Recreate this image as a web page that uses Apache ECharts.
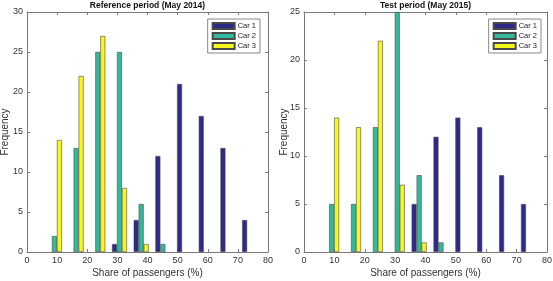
<!DOCTYPE html>
<html><head><meta charset="utf-8">
<script src="https://cdn.jsdelivr.net/npm/echarts@6/dist/echarts.min.js"></script>
<style>html,body{margin:0;padding:0;background:#fff}#c{width:553px;height:281px}</style>
</head><body><div id="c"></div>
<script>
const binCenters = [9.1, 16.3, 23.5, 30.7, 37.9, 45.1, 52.3, 59.5, 66.7, 73.9];
const seriesNames = ['Car 1', 'Car 2', 'Car 3'];
const refCar1 = [0, 0, 0, 1, 4, 12, 21, 17, 13, 4];
const refCar2 = [2, 13, 25, 25, 6, 1, 0, 0, 0, 0];
const refCar3 = [14, 22, 27, 8, 1, 0, 0, 0, 0, 0];
const testCar1 = [0, 0, 0, 0, 5, 12, 14, 13, 8, 5];
const testCar2 = [5, 5, 13, 25, 8, 1, 0, 0, 0, 0];
const testCar3 = [14, 13, 22, 7, 1, 0, 0, 0, 0, 0];
const xTicks = [0, 10, 20, 30, 40, 50, 60, 70, 80];
const titles = ['Reference period (May 2014)', 'Test period (May 2015)'];
const xLabel = 'Share of passengers (%)';
const yLabel = 'Frequency';

const colors = ['#2d2a8a', '#33b89c', '#f7f71c'];
const font = 'Liberation Sans, Arial, Helvetica, sans-serif';
const axisCol = '#7a7a7a';
const textCol = '#333';

function toData(vals) {
  return binCenters.map((c, i) => [c, vals[i] === 0 ? '-' : vals[i]]);
}

const grids = [
  {left: 27, right: 285, top: 12, bottom: 29, outerBoundsMode: 'none', containLabel: false},
  {left: 304, right: 6, top: 12, bottom: 29, outerBoundsMode: 'none', containLabel: false}
];
const yMax = [30, 25];

const xAxes = [], yAxes = [], series = [], legends = [], tTitles = [];
grids.forEach((g, gi) => {
  xAxes.push({
    gridIndex: gi, type: 'value', min: xTicks[0], max: xTicks[xTicks.length - 1], interval: 10,
    name: xLabel, nameLocation: 'middle', nameGap: 16, nameMoveOverlap: false,
    nameTextStyle: {color: textCol, fontSize: 10, fontFamily: font},
    axisLine: {show: true, lineStyle: {color: axisCol, width: 1}},
    axisTick: {show: true, inside: true, length: 3, lineStyle: {color: axisCol}},
    axisLabel: {color: textCol, fontSize: 9, fontFamily: font, margin: 4},
    splitLine: {show: false}
  });
  xAxes.push({
    gridIndex: gi, type: 'value', position: 'top', min: 0, max: 80, interval: 10,
    axisLine: {show: true, onZero: false, lineStyle: {color: axisCol, width: 1}},
    axisTick: {show: true, inside: true, length: 3, lineStyle: {color: axisCol}},
    axisLabel: {show: false}, splitLine: {show: false}
  });
  yAxes.push({
    gridIndex: gi, type: 'value', min: 0, max: yMax[gi], interval: 5,
    name: yLabel, nameLocation: 'middle', nameGap: gi === 0 ? 17 : 15, nameMoveOverlap: false,
    nameTextStyle: {color: textCol, fontSize: 10, fontFamily: font},
    axisLine: {show: true, lineStyle: {color: axisCol, width: 1}},
    axisTick: {show: true, inside: true, length: 3, lineStyle: {color: axisCol}},
    axisLabel: {color: textCol, fontSize: 9, fontFamily: font, margin: 4},
    splitLine: {show: false}
  });
  yAxes.push({
    gridIndex: gi, type: 'value', position: 'right', min: 0, max: yMax[gi], interval: 5,
    axisLine: {show: true, onZero: false, lineStyle: {color: axisCol, width: 1}},
    axisTick: {show: true, inside: true, length: 3, lineStyle: {color: axisCol}},
    axisLabel: {show: false}, splitLine: {show: false}
  });
  const left = g.left, width = 553 - g.left - g.right;
  tTitles.push({
    text: titles[gi], left: left + width / 2, top: 1, textAlign: 'center', padding: 0,
    textStyle: {fontSize: 8.5, fontWeight: 'bold', color: '#111', fontFamily: font}
  });
});

const allData = [[refCar1, refCar2, refCar3], [testCar1, testCar2, testCar3]];
allData.forEach((set, gi) => {
  set.forEach((vals, si) => {
    series.push({
      type: 'bar', name: seriesNames[si], xAxisIndex: gi * 2, yAxisIndex: gi * 2,
      data: toData(vals), barWidth: 5, barGap: '0%',
      itemStyle: {color: colors[si], borderColor: '#4a4a4a', borderWidth: 0.6},
      emphasis: {disabled: true}
    });
  });
});

[293, 12].forEach(r => {
  legends.push({
    data: seriesNames.map(n => ({name: n, icon: 'rect'})), orient: 'vertical', right: r, top: 19,
    itemWidth: 22, itemHeight: 6, itemGap: 2,
    backgroundColor: '#fff', borderColor: '#888', borderWidth: 1, borderRadius: 0,
    padding: [3, 4, 3, 4],
    textStyle: {fontSize: 7.5, color: '#222', fontFamily: font, padding: [0, 0, 0, -2]},
    selectedMode: false
  });
});

const chart = echarts.init(document.getElementById('c'), null, {renderer: 'canvas'});
chart.setOption({
  animation: false,
  backgroundColor: '#fff',
  title: tTitles,
  grid: grids,
  xAxis: xAxes,
  yAxis: yAxes,
  legend: legends,
  series: series
});
</script>
</body></html>
